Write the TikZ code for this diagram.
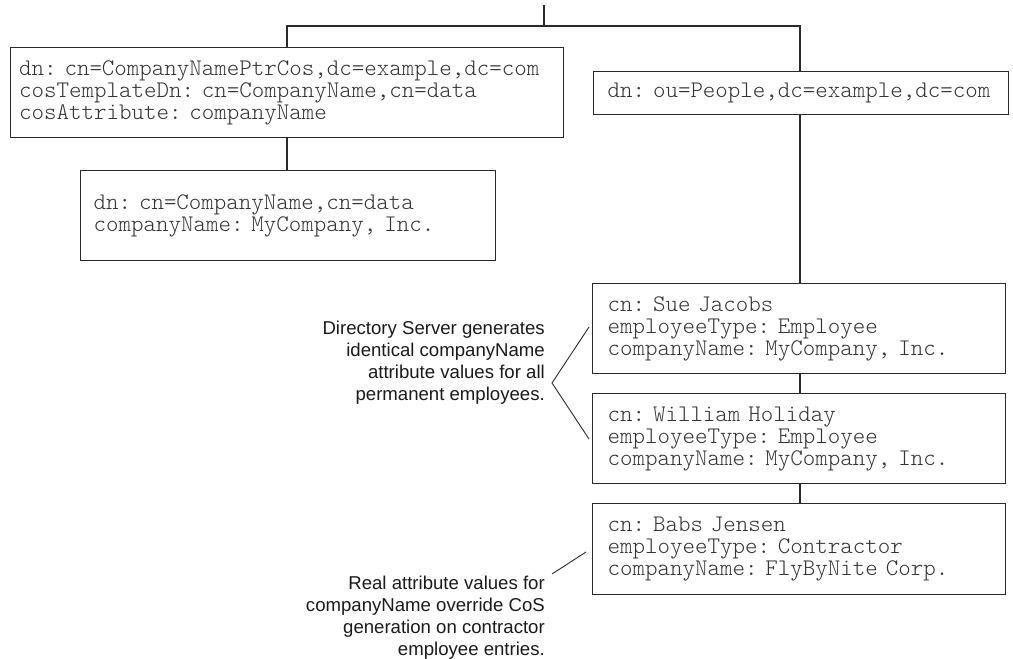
\documentclass[tikz,border=0pt]{standalone}
\usepackage{fontspec}
\setmainfont{Liberation Sans}
\newfontfamily\monofont{lmmonolt10-regular.otf}
\newcommand\boxfont{\monofont\fontsize{23.8}{22}\selectfont\frenchspacing
  \fontdimen2\font=12.5pt\fontdimen3\font=0pt\fontdimen4\font=0pt}
\definecolor{linec}{HTML}{2A2A2A}
\definecolor{monoc}{HTML}{333333}
\definecolor{sansc}{HTML}{1A1A1A}
\begin{document}
\begin{tikzpicture}[x=1pt,y=-1pt,
  box/.style={draw=linec, line width=1.2pt, anchor=north west, align=left,
    inner xsep=14pt, inner ysep=0pt, text=monoc, font=\boxfont},
  note/.style={align=right, anchor=east, inner sep=0pt, text=sansc,
    font=\fontsize{18.6}{22}\selectfont},
  conn/.style={draw=linec, line width=1.2pt}]
\useasboundingbox (0,0) rectangle (1013,659);

% boxes
\node[box, text width=536, minimum height=90, inner xsep=8.5pt] (ptr) at (10,47)
  {dn: cn=CompanyNamePtrCos,dc=example,dc=com\\
   cosTemplateDn: cn=CompanyName,cn=data\\
   cosAttribute: companyName};
\node[box, text width=389, minimum height=90, inner xsep=13pt] (tmpl) at (80,170)
  {dn: cn=CompanyName,cn=data\\
   companyName: MyCompany, Inc.};
\node[box, text width=387, minimum height=43, inner xsep=14pt] (people) at (593,71)
  {dn: ou=People,dc=example,dc=com};
\node[box, text width=383, minimum height=90, inner xsep=15pt] (sue) at (592,283)
  {cn: Sue Jacobs\\
   employeeType: Employee\\
   companyName: MyCompany, Inc.};
\node[box, text width=383, minimum height=90, inner xsep=15pt] (will) at (592,393)
  {cn: William Holiday\\
   employeeType: Employee\\
   companyName: MyCompany, Inc.};
\node[box, text width=383, minimum height=91, inner xsep=15pt] (babs) at (592,503)
  {cn: Babs Jensen\\
   employeeType: Contractor\\
   companyName: FlyByNite Corp.};

% tree connectors
\coordinate (top) at (544,5);
\coordinate (jm) at (544,26);
\coordinate (jl) at (287,26);
\coordinate (jr) at (800,26);
\draw[conn] (top) -- (jm);
\draw[conn] (jl |- ptr.north) -- (jl) -- (jr) -- (jr |- people.north);
\draw[conn] (jl |- ptr.south) -- (jl |- tmpl.north);
\draw[conn] (jr |- people.south) -- (jr |- sue.north);
\draw[conn] (jr |- sue.south) -- (jr |- will.north);
\draw[conn] (jr |- will.south) -- (jr |- babs.north);

% notes
\node[note] (n1) at (545,363)
  {Directory Server generates\\
   identical companyName\\
   attribute values for all\\
   permanent employees.};
\coordinate (n1a) at (589,327);
\coordinate (n1v) at (552,383);
\coordinate (n1b) at (589,439);
\draw[conn, line width=0.9pt] (n1a) -- (n1v) -- (n1b);

\node[note] (n2) at (545,618)
  {Real attribute values for\\
   companyName override CoS\\
   generation on contractor\\
   employee entries.};
\coordinate (n2a) at (552,574);
\coordinate (n2b) at (586,552);
\draw[conn, line width=0.9pt] (n2a) -- (n2b);
\end{tikzpicture}
\end{document}
